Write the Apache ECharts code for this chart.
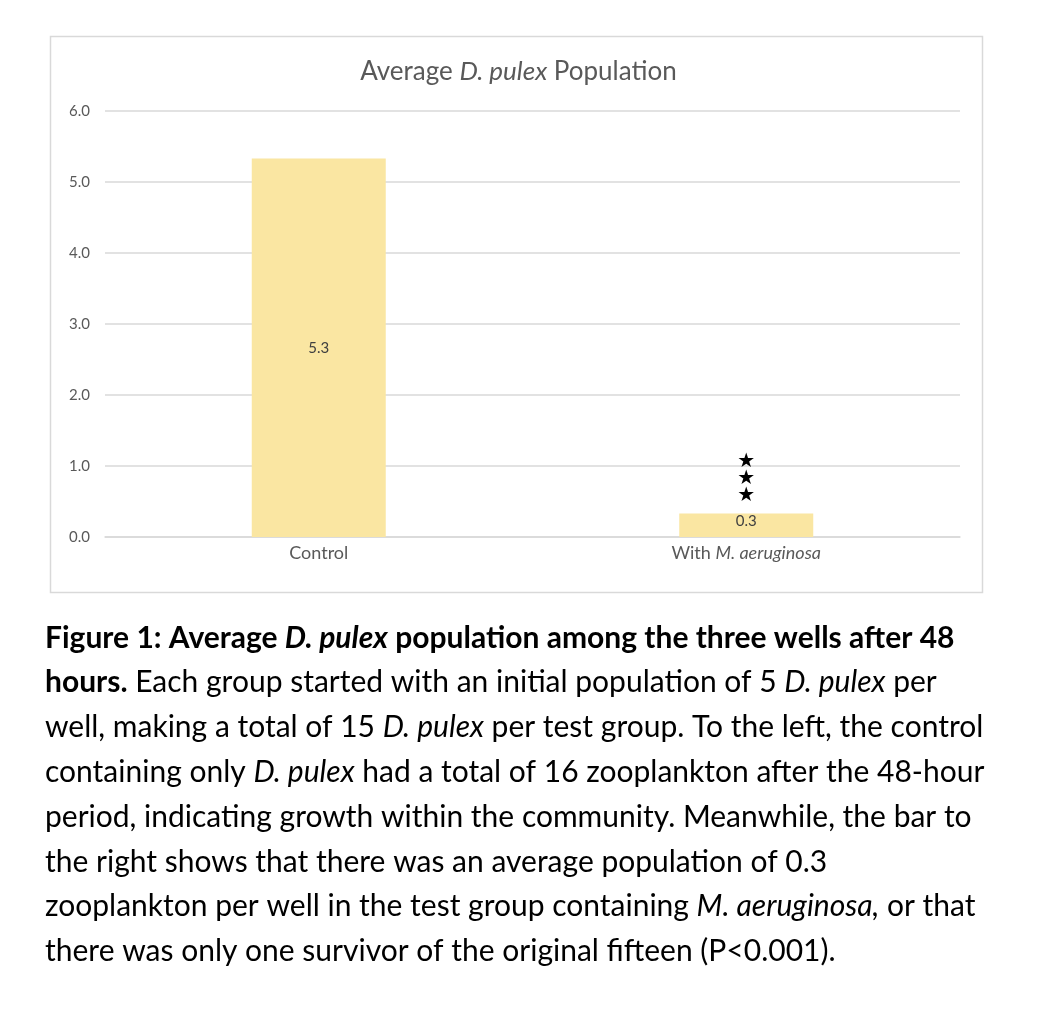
<!DOCTYPE html>
<html><head><meta charset="utf-8">
<script src="https://cdn.jsdelivr.net/npm/echarts@6/dist/echarts.min.js"></script>
<style>html,body{margin:0;padding:0;background:#fff}#c{width:1037px;height:1020px}</style>
</head><body><div id="c"></div>
<script>
const categories = ['Control', 'With M. aeruginosa'];
const values = [5.33, 0.33];
const valueLabels = ['5.3', '0.3'];
const yTicks = [0, 1, 2, 3, 4, 5, 6];
const FONT = 'Lato, "Open Sans", sans-serif';

const chart = echarts.init(document.getElementById('c'), null, {renderer: 'canvas'});
const caption = [
  '{b|Figure 1: Average }{bi|D. pulex}{b| population among the three wells after 48}',
  '{b|hours.}{n| Each group started with an initial population of 5 }{i|D. pulex}{n| per}',
  '{n|well, making a total of 15 }{i|D. pulex}{n| per test group. To the left, the control}',
  '{n|containing only }{i|D. pulex}{n| had a total of 16 zooplankton after the 48-hour}',
  '{n|period, indicating growth within the community. Meanwhile, the bar to}',
  '{n|the right shows that there was an average population of 0.3}',
  '{n|zooplankton per well in the test group containing }{i|M. aeruginosa,}{n| or that}',
  '{n|there was only one survivor of the original fifteen (P<0.001).}'
].join('\n');
const capFs = 30, capLh = 44.8, capColor = '#000';

chart.setOption({
  animation: false,
  backgroundColor: '#fff',
  textStyle: {fontFamily: FONT},
  title: {
    text: '{n|Average }{i|D. pulex}{n| Population}',
    left: 'center', top: 54,
    textStyle: {
      fontWeight: 'normal',
      rich: {
        n: {fontSize: 26, color: '#595959', fontFamily: FONT, fontWeight: 'normal'},
        i: {fontSize: 26, color: '#595959', fontStyle: 'italic', fontFamily: FONT, fontWeight: 'normal'}
      }
    }
  },
  grid: {left: 105, right: 77, top: 111, bottom: 483, containLabel: false},
  xAxis: {
    type: 'category', data: categories,
    axisLine: {lineStyle: {color: '#d9d9d9', width: 1.5}},
    axisTick: {show: false},
    axisLabel: {
      margin: 7,
      formatter: v => v.indexOf('M. aeruginosa') >= 0 ? '{n|With }{i|M. aeruginosa}' : '{n|' + v + '}',
      rich: {
        n: {fontSize: 18, color: '#595959', fontFamily: FONT},
        i: {fontSize: 18, color: '#595959', fontStyle: 'italic', fontFamily: FONT}
      }
    }
  },
  yAxis: {
    type: 'value', min: yTicks[0], max: yTicks[yTicks.length - 1], interval: 1,
    axisLine: {show: false}, axisTick: {show: false},
    splitLine: {lineStyle: {color: '#d9d9d9', width: 1.5}},
    axisLabel: {formatter: v => v.toFixed(1), color: '#595959', fontSize: 15, margin: 15, fontFamily: FONT}
  },
  series: [{
    type: 'bar', barWidth: 134,
    itemStyle: {color: '#fae6a2'},
    data: values.map((v, i) => ({
      value: v,
      label: {
        show: true,
        position: i === 0 ? 'inside' : 'insideTop',
        distance: 0,
        formatter: valueLabels[i],
        color: '#404040', fontSize: 15, fontFamily: FONT
      }
    })),
    markPoint: {
      symbol: 'circle', symbolSize: 0,
      data: [{coord: [1, values[1]], value: 0}],
      label: {
        show: true, position: 'top', distance: 9,
        formatter: '★\n★\n★', color: '#000', fontSize: 20, lineHeight: 17,
        fontFamily: '"DejaVu Sans", sans-serif'
      }
    }
  }],
  graphic: [
    {type: 'rect', shape: {x: 50.5, y: 36.5, width: 932, height: 556},
     style: {fill: 'none', stroke: '#d9d9d9', lineWidth: 1.5}, z: -1},
    {type: 'text', left: 45, top: 615.5,
     style: {
       text: caption,
       lineHeight: capLh,
       rich: {
         b: {fontSize: capFs, fontWeight: 'bold', fill: capColor, fontFamily: FONT, lineHeight: capLh},
         bi: {fontSize: capFs, fontWeight: 'bold', fontStyle: 'italic', fill: capColor, fontFamily: FONT, lineHeight: capLh},
         n: {fontSize: capFs, fill: capColor, fontFamily: FONT, lineHeight: capLh},
         i: {fontSize: capFs, fontStyle: 'italic', fill: capColor, fontFamily: FONT, lineHeight: capLh}
       }
     }}
  ]
});
</script></body></html>
